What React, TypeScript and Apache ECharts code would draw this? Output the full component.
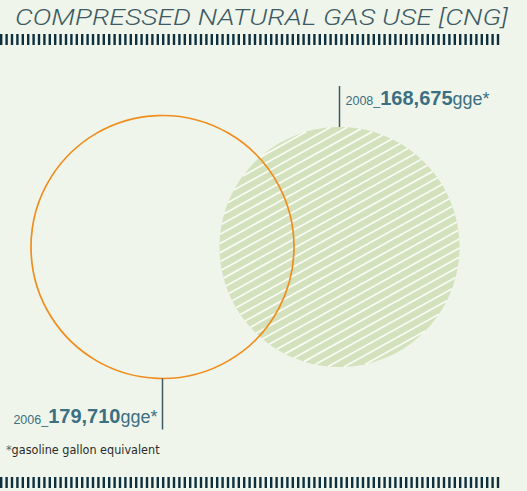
import React, { useEffect, useRef } from 'react';
import * as echarts from 'echarts';

const title = 'COMPRESSED NATURAL GAS USE [CNG]';
const years = [2006, 2008];
const values = [179710, 168675];
const unitLabel = 'gge*';
const footnote = 'gasoline gallon equivalent';

const SANS = "'Liberation Sans', Arial, sans-serif";
const COND = "'DejaVu Sans Condensed', 'Liberation Sans', sans-serif";
const BLUE = '#3c6f82';

export default function App() {
  const ref = useRef<HTMLDivElement>(null);
  useEffect(() => {
    const chart = echarts.init(ref.current!, null, { renderer: 'svg' });
    const vMin = Math.min(...values);
    const vMax = Math.max(...values);
    const dMin = 240;
    const dMax = 263;
    const diam = (v: number) => dMin + ((v - vMin) / (vMax - vMin)) * (dMax - dMin);
    const fmt = (v: number) => v.toLocaleString('en-US');

    const hatchAngle = (29 * Math.PI) / 180;
    const hatchGap = 8;

    const hatchedCircle = (params: any, api: any) => {
      const c = api.coord([api.value(0), api.value(1)]);
      const r = diam(api.value(2)) / 2;
      const dx = Math.cos(hatchAngle);
      const dy = -Math.sin(hatchAngle);
      const nx = -dy;
      const ny = dx;
      const children: any[] = [
        { type: 'circle', shape: { cx: c[0], cy: c[1], r }, style: { fill: '#d3e1bc' } },
      ];
      const k = Math.floor(r / hatchGap);
      for (let j = -k; j <= k; j++) {
        const s = j * hatchGap + 3;
        if (Math.abs(s) >= r - 0.5) continue;
        const h = Math.sqrt(r * r - s * s);
        const mx = c[0] + s * nx;
        const my = c[1] + s * ny;
        children.push({
          type: 'line',
          shape: { x1: mx - h * dx, y1: my - h * dy, x2: mx + h * dx, y2: my + h * dy },
          style: { stroke: 'rgba(250,252,246,0.95)', lineWidth: 1.8 },
        });
      }
      return { type: 'group', children };
    };

    chart.setOption({
      animation: false,
      backgroundColor: '#eff5ea',
      grid: { left: 74, width: 354, top: 147, height: 200 },
      xAxis: { type: 'value', min: 2005, max: 2009, show: false },
      yAxis: { type: 'value', min: 0, max: 2, show: false },
      series: [
        {
          type: 'custom',
          silent: true,
          renderItem: hatchedCircle,
          data: [[years[1], 1, values[1]]],
          z: 2,
        },
        {
          type: 'scatter',
          silent: true,
          emphasis: { disabled: true },
          symbol: 'circle',
          symbolSize: diam(values[0]),
          data: [[years[0], 1, values[0]]],
          itemStyle: { color: 'rgba(0,0,0,0)', borderColor: '#f08d1d', borderWidth: 1.7, opacity: 1 },
          z: 3,
        },
      ],
    });

    const graphics: any[] = [];
    graphics.push({
      type: 'text',
      x: 15,
      y: 18,
      scaleX: 1.285,
      style: {
        text: title,
        x: 0,
        y: 0,
        verticalAlign: 'middle',
        font: "italic 300 22px 'Roboto', 'Lato', sans-serif",
        fill: '#3d5a64',
      },
    });
    const ticks = (y: number, h: number) => {
      for (let x = 0; x < 500; x += 5.4) {
        graphics.push({ type: 'rect', shape: { x, y, width: 2.4, height: h }, style: { fill: '#0d2f3e' }, silent: true });
      }
    };
    ticks(34, 11);
    ticks(477, 11);

    years.forEach((yr, i) => {
      const p = chart.convertToPixel({ gridIndex: 0 }, [yr, 1]) as number[];
      const r = diam(values[i]) / 2;
      const above = i === 1;
      const edge = above ? p[1] - r : p[1] + r;
      const end = above ? edge - 41 : edge + 51;
      graphics.push({
        type: 'line',
        shape: { x1: p[0], y1: edge, x2: p[0], y2: end },
        style: { stroke: '#3d5a64', lineWidth: 1.5 },
        z: 10,
      });
      const ty = above ? edge - 19.5 : edge + 47.5;
      graphics.push({
        type: 'text',
        z: 10,
        style: {
          text: `{a|${yr}_}{b|${fmt(values[i])}}{c|${unitLabel}}`,
          x: above ? p[0] + 6 : p[0] - 5,
          y: ty,
          align: above ? 'left' : 'right',
          verticalAlign: 'bottom',
          rich: {
            a: { font: `12.5px ${SANS}`, fill: BLUE, verticalAlign: 'bottom', lineHeight: 12.5 },
            b: { font: `bold 20px ${SANS}`, fill: BLUE, verticalAlign: 'bottom', lineHeight: 20 },
            c: { font: `18px ${SANS}`, fill: BLUE, verticalAlign: 'bottom', lineHeight: 18 },
          },
        },
      });
    });

    graphics.push({
      type: 'text',
      z: 10,
      style: {
        text: `{s|*}{t|${footnote}}`,
        x: 6,
        y: 456,
        verticalAlign: 'bottom',
        rich: {
          s: { font: `12.5px ${COND}`, fill: BLUE, verticalAlign: 'bottom', lineHeight: 14 },
          t: { font: `12.5px ${COND}`, fill: '#2b2b2b', verticalAlign: 'bottom', lineHeight: 14 },
        },
      },
    });

    chart.setOption({ graphic: graphics });
    return () => chart.dispose();
  }, []);
  return <div ref={ref} style={{ position: 'fixed', left: 0, top: 0, width: 527, height: 491 }} />;
}
